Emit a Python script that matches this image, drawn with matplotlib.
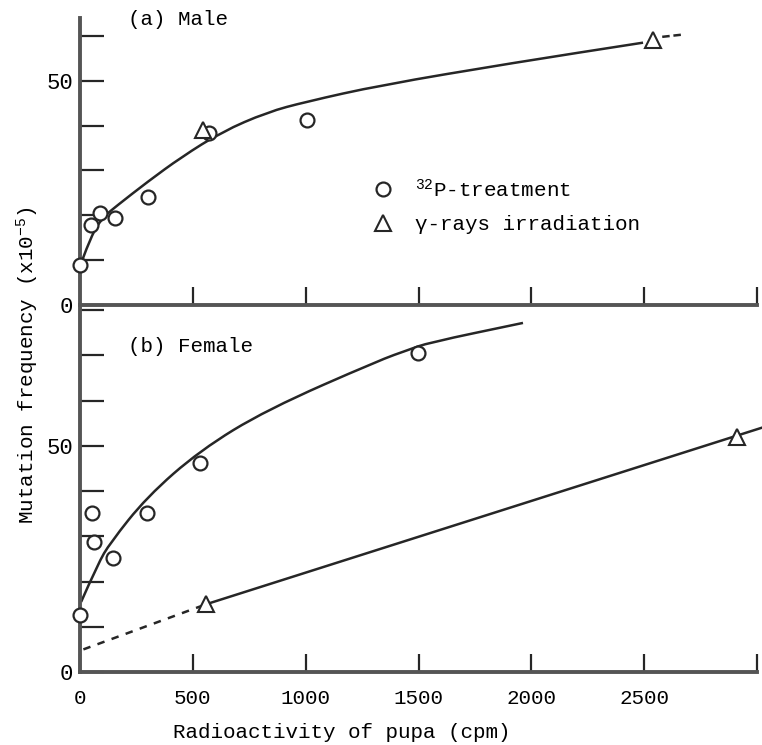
import matplotlib.pyplot as plt
from matplotlib.lines import Line2D
from matplotlib.path import Path
from matplotlib.patches import PathPatch

plt.rcParams['font.family'] = ['Liberation Mono', 'DejaVu Sans Mono']
plt.rcParams['mathtext.fontset'] = 'custom'
plt.rcParams['mathtext.rm'] = 'Liberation Mono'
plt.rcParams['mathtext.it'] = 'Liberation Mono'

# (a) Male: 32P points, gamma-ray points, fitted curve
male_p32_x = [0, 48, 88, 155, 300, 572, 1005]
male_p32_y = [8.9, 17.9, 20.5, 19.3, 24.0, 38.4, 41.3]
male_gamma_x = [545, 2540]
male_gamma_y = [39.0, 59.0]
male_curve_x = [10, 50, 100, 160, 300, 450, 628, 830, 1000, 1330, 1920, 2495]
male_curve_y = [10.0, 15.5, 19.5, 22.0, 27.5, 33.0, 38.6, 43.0, 45.3, 49.0, 54.0, 58.5]
male_arrow_x = [2580, 2670]
male_arrow_y = [59.8, 60.3]

# (b) Female
fem_p32_x = [0, 52, 63, 145, 296, 532, 1497]
fem_p32_y = [12.6, 35.2, 28.8, 25.2, 35.2, 46.2, 70.6]
fem_gamma_x = [560, 2911]
fem_gamma_y = [15.0, 52.0]
fem_curve_x = [5, 80, 133, 296, 532, 827, 1329, 1453, 1542, 1963]
fem_curve_y = [15.5, 24.0, 28.5, 38.7, 49.0, 58.0, 69.0, 71.2, 72.8, 77.2]
fem_dash_x = [15, 560]
fem_dash_y = [5.0, 15.0]
fem_line_x = [560, 3020]
fem_line_y = [15.0, 54.0]

x_ticks = [0, 500, 1000, 1500, 2000, 2500, 3000]
x_labels = ['0', '500', '1000', '1500', '2000', '2500', '']

ink = '#262626'


def smooth(ax, xs, ys):
    # quadratic bezier through midpoints, read points used as control points
    verts = [(xs[0], ys[0])]
    codes = [Path.MOVETO]
    for i in range(1, len(xs) - 1):
        verts += [(xs[i], ys[i]), ((xs[i] + xs[i + 1]) / 2, (ys[i] + ys[i + 1]) / 2)]
        codes += [Path.CURVE3, Path.CURVE3]
    verts.append((xs[-1], ys[-1]))
    codes.append(Path.LINETO)
    ax.add_patch(PathPatch(Path(verts, codes), fc='none', ec=ink, lw=1.8))


W, H = 762, 745
fig = plt.figure(figsize=(W / 100, H / 100), dpi=100)
ax1 = fig.add_axes([80 / W, 1 - 305 / H, 677 / W, 287 / H])
ax2 = fig.add_axes([80 / W, 1 - 672 / H, 677 / W, 364 / H])

for ax in (ax1, ax2):
    ax.set_xlim(0, 3000)
    ax.spines['top'].set_visible(False)
    ax.spines['right'].set_visible(False)
    for s in ('left', 'bottom'):
        ax.spines[s].set_linewidth(2.8)
        ax.spines[s].set_color('#555555')
    ax.tick_params(axis='x', direction='in', length=13, width=1.6, color=ink,
                   labelsize=15, pad=12)
    ax.tick_params(axis='y', direction='in', length=17, width=1.6, color=ink,
                   labelsize=16, pad=5)

ax1.set_ylim(0, 64)
ax1.set_yticks([0, 10, 20, 30, 40, 50, 60])
ax1.set_yticklabels(['0', '', '', '', '', '50', ''])
ax1.set_xticks(x_ticks[1:])
ax1.set_xticklabels([])

ax2.set_ylim(0, 80.5)
ax2.set_yticks([0, 10, 20, 30, 40, 50, 60, 70, 80])
ax2.set_yticklabels(['0', '', '', '', '', '50', '', '', ''])
ax2.set_xticks(x_ticks)
ax2.set_xticklabels(x_labels)

circ = dict(marker='o', ms=10, mfc='white', mec=ink, mew=1.6, ls='none', zorder=3)
tri = dict(marker='^', ms=11, mfc='white', mec=ink, mew=1.5, ls='none', zorder=3)

# male
smooth(ax1, male_curve_x, male_curve_y)
ax1.plot(male_arrow_x, male_arrow_y, color=ink, lw=1.8, ls=(0, (3, 1.5)), clip_on=False)
ax1.plot(male_p32_x, male_p32_y, clip_on=False, **circ)
ax1.plot(male_gamma_x, male_gamma_y, clip_on=False, **tri)
ax1.text(213, 63.6, '(a) Male', fontsize=15, va='center')

# female
smooth(ax2, fem_curve_x, fem_curve_y)
ax2.plot(fem_dash_x, fem_dash_y, color=ink, lw=1.8, ls=(0, (3, 3)))
ax2.plot(fem_line_x, fem_line_y, color=ink, lw=1.8, clip_on=False)
ax2.plot(fem_p32_x, fem_p32_y, clip_on=False, **circ)
ax2.plot(fem_gamma_x, fem_gamma_y, clip_on=False, **tri)
ax2.text(213, 71.9, '(b) Female', fontsize=15, va='center')

handles = [Line2D([], [], **circ), Line2D([], [], **tri)]
ax1.legend(handles, ['$^{32}$P-treatment', '\u03b3-rays irradiation'],
           loc='upper left', bbox_to_anchor=(0.424, 0.4425), frameon=False,
           fontsize=15, handlelength=1.5, handletextpad=0.8, labelspacing=0.7,
           borderpad=0, borderaxespad=0)

fig.text(28 / W, 1 - 365 / H, 'Mutation frequency (x10$^{-5}$)', rotation=90,
         ha='center', va='center', fontsize=15)
fig.text(342 / W, 1 - 732 / H, 'Radioactivity of pupa (cpm)', ha='center',
         va='center', fontsize=15)

fig.savefig('out.png', dpi=100)
